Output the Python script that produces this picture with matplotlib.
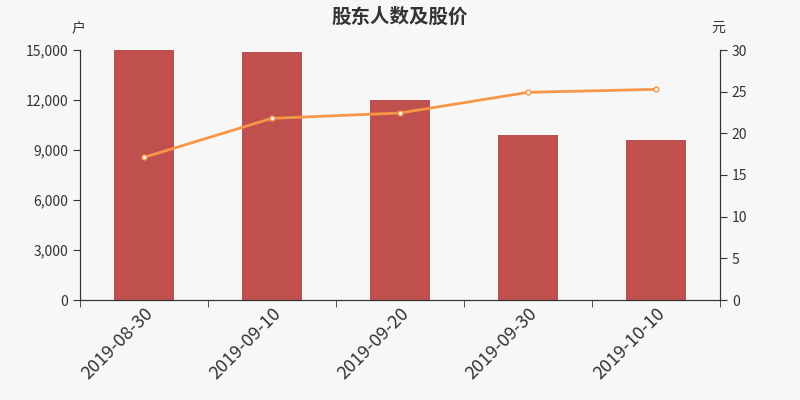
import matplotlib.pyplot as plt
import numpy as np

plt.rcParams['font.family'] = ['Noto Sans CJK SC', 'DejaVu Sans']

dates = ['2019-08-30', '2019-09-10', '2019-09-20', '2019-09-30', '2019-10-10']
holders = [14980, 14880, 11980, 9900, 9600]
prices = [17.12, 21.8, 22.44, 24.92, 25.28]

bg = '#f7f7f7'
axis_color = '#333333'

fig = plt.figure(figsize=(8, 4), dpi=100, facecolor=bg)
ax = fig.add_axes([0.1, 0.25, 0.8, 0.625], facecolor=bg)
ax2 = ax.twinx()

x = np.arange(len(dates))
ax.bar(x, holders, width=0.47, color='#c0504d', zorder=2)
ax2.plot(x, prices, color='#f79646', lw=2, marker='o', ms=3.5,
         mfc='white', mec='#f79646', mew=1, zorder=3)

ax.set_xlim(-0.5, len(dates) - 0.5)
ax.set_ylim(0, 15000)
ax2.set_ylim(0, 30)
ax.set_yticks(np.arange(0, 15001, 3000))
ax.set_yticklabels([f'{v:,}' for v in range(0, 15001, 3000)])
ax2.set_yticks(np.arange(0, 31, 5))

ax.set_xticks(x)
ax.set_xticklabels(dates, rotation=45, ha='right', rotation_mode='anchor', fontsize=13, color=axis_color)
ax.tick_params(axis='x', length=0, pad=3)
ax.set_xticks(np.arange(-0.5, len(dates)), minor=True)
ax.tick_params(axis='x', which='minor', length=5, color=axis_color)

for a in (ax, ax2):
    a.spines['top'].set_visible(False)
    for s in ('left', 'right', 'bottom'):
        a.spines[s].set_color(axis_color)
    a.tick_params(axis='y', labelsize=10, labelcolor=axis_color, color=axis_color, length=5)

ax.text(-0.003, 1.088, '户', transform=ax.transAxes, ha='center', va='center', fontsize=10, color=axis_color)
ax2.text(0.997, 1.088, '元', transform=ax2.transAxes, ha='center', va='center', fontsize=10, color=axis_color)
fig.suptitle('股东人数及股价', y=0.982, fontsize=14, fontweight='bold', color=axis_color)

fig.savefig('out.png', dpi=100, facecolor=bg)
